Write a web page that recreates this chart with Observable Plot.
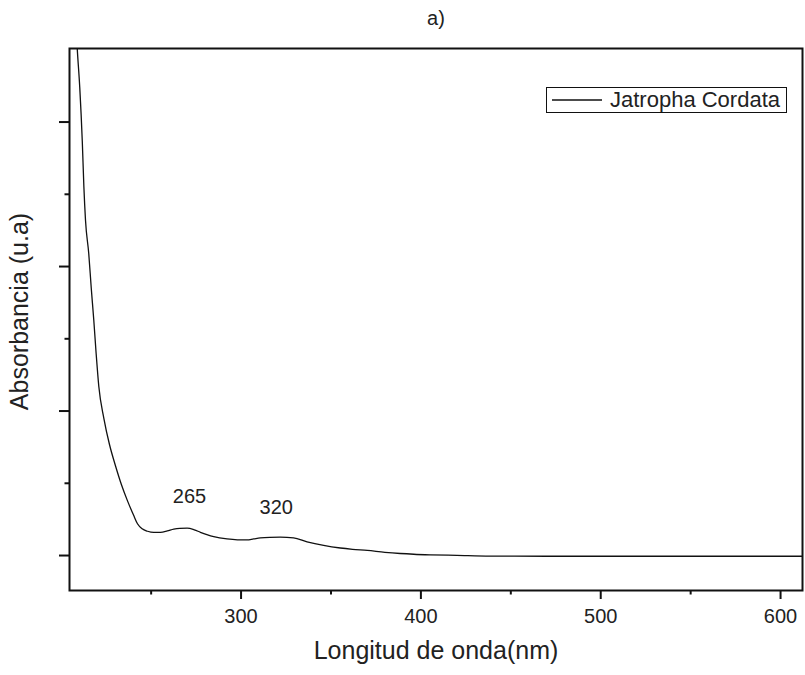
<!DOCTYPE html>
<html>
<head>
<meta charset="utf-8">
<script src="https://cdn.jsdelivr.net/npm/d3@7"></script>
<script src="https://cdn.jsdelivr.net/npm/@observablehq/plot@0.6"></script>
<style>
  html, body { margin: 0; padding: 0; background: #fff; }
  #wrap { position: relative; width: 805px; height: 675px; }
  #wrap svg text { font-family: 'Liberation Sans', Arial, sans-serif; }
  #wrap svg text.title { font-family: 'DejaVu Sans Condensed', 'DejaVu Sans', sans-serif; }
  #legend {
    position: absolute; left: 546px; top: 87px; width: 241px; height: 26px;
    border: 1.3px solid #111; box-sizing: border-box; background: #fff;
    font-family: 'Liberation Sans', Arial, sans-serif; font-size: 22px; color: #222;
    display: flex; align-items: center; white-space: nowrap;
  }
  #legend svg { margin-left: 5px; margin-right: 8px; }
</style>
</head>
<body>
<div id="wrap"></div>
<script>
// Wavelength (nm) and absorbance (a.u.)
const wavelength = [208.3, 208.9, 210.3, 211.7, 212.6, 213.5, 215.3, 216.7, 218.1, 219.4,
  220.9, 223.7, 226.8, 230.2, 233.5, 236.8, 240.2, 242.4, 245.0, 248.0,
  251.5, 255.2, 259, 262.6, 266, 270, 274, 277.4, 281, 284.8,
  292.2, 298, 303.3, 307, 310.7, 316, 321.8, 329.2, 336.7, 345.9,
  355.2, 362, 370.2, 380, 388.5, 396, 405.2, 420, 438.5, 470,
  520, 570, 612.5];
const absorbance = [3.65, 3.51, 3.24, 2.87, 2.55, 2.32, 2.09, 1.85, 1.63, 1.40,
  1.17, 0.95, 0.77, 0.62, 0.49, 0.38, 0.28, 0.22, 0.185, 0.168,
  0.160, 0.160, 0.170, 0.183, 0.188, 0.189, 0.178, 0.161, 0.145, 0.131,
  0.115, 0.109, 0.108, 0.115, 0.122, 0.126, 0.127, 0.122, 0.095, 0.070,
  0.052, 0.043, 0.035, 0.022, 0.014, 0.009, 0.005, 0.001, -0.004, -0.005,
  -0.005, -0.005, -0.005];

const seriesName = "Jatropha Cordata";
const peakLabels = ["265", "320"];
const peakX = [271.3, 319.6];
const peakY = [0.41, 0.33];

const xMajorTicks = [300, 400, 500, 600];
const xMinorTicks = [250, 350, 450, 550];
const yMajorTicks = [0, 1, 2, 3];
const yMinorTicks = [0.5, 1.5, 2.5];

const title = "a)";
const xTitle = "Longitud de onda(nm)";
const yTitle = "Absorbancia (u.a)";

const data = wavelength.map((w, i) => ({w, a: absorbance[i]}));
const peaks = peakLabels.map((t, i) => ({t, x: peakX[i], y: peakY[i]}));

const font = "'Liberation Sans', Arial, sans-serif";

const chart = Plot.plot({
  width: 805,
  height: 675,
  marginTop: 48,
  marginBottom: 85,
  marginLeft: 69,
  marginRight: 3,
  style: {fontFamily: font, background: "#fff", color: "#222"},
  x: {domain: [204.6, 612.2]},
  y: {domain: [-0.242, 3.509]},
  marks: [
    Plot.line(data, {x: "w", y: "a", stroke: "#111", strokeWidth: 1.3, curve: "monotone-x", clip: true}),
    Plot.text(peaks, {x: "x", y: "y", text: "t", fontSize: 20, fill: "#222", fontFamily: font}),
    Plot.axisX({ticks: xMajorTicks, tickSize: 9, tickPadding: 9, fontSize: 20, label: null, stroke: "#111", strokeWidth: 2, fill: "#222", fontFamily: font}),
    Plot.axisX({ticks: xMinorTicks, tickSize: 4.5, tickFormat: () => "", label: null, stroke: "#111", strokeWidth: 2}),
    Plot.axisY({ticks: yMajorTicks, tickSize: 10, tickFormat: () => "", label: null, stroke: "#111", strokeWidth: 2}),
    Plot.axisY({ticks: yMinorTicks, tickSize: 4.5, tickFormat: () => "", label: null, stroke: "#111", strokeWidth: 2}),
    Plot.frame({stroke: "#111", strokeWidth: 2}),
    Plot.text([xTitle], {frameAnchor: "bottom", dy: 60, fontSize: 25, lineAnchor: "middle", textAnchor: "middle", fill: "#222", fontFamily: font}),
    Plot.text([yTitle], {frameAnchor: "left", dx: -50, dy: -8, rotate: -90, fontSize: 25, lineAnchor: "middle", textAnchor: "middle", fill: "#222", fontFamily: font}),
    Plot.text([title], {frameAnchor: "top", dy: -30, fontSize: 20, lineAnchor: "middle", textAnchor: "middle", fontFamily: "'DejaVu Sans Condensed', 'DejaVu Sans', sans-serif", fill: "#222", className: "title"})
  ]
});

const wrap = document.getElementById("wrap");
wrap.appendChild(chart);

const legend = document.createElement("div");
legend.id = "legend";
legend.innerHTML = `<svg width="50" height="4"><line x1="0" y1="2" x2="50" y2="2" stroke="#111" stroke-width="1.3"/></svg><span>${seriesName}</span>`;
wrap.appendChild(legend);
</script>
</body>
</html>
